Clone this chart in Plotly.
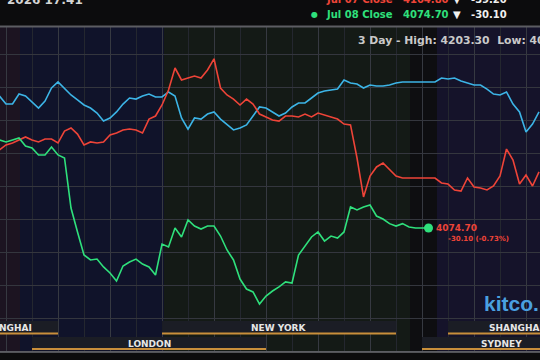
import numpy as np
import plotly.graph_objects as go

# ---- data (prices, USD/oz), sampled every 15 minutes ----
time_start_h = 1.75
time_step_h = 0.25

blue_jul06 = [
    4175.0, 4168.9, 4168.9, 4176.5, 4175.0, 4170.5, 4165.9, 4171.2, 4181.1, 4185.7, 4181.1, 4175.8,
    4172.0, 4168.2, 4165.9, 4162.1, 4156.0, 4158.3, 4162.9, 4168.9, 4173.5, 4172.7, 4175.0, 4176.5,
    4174.3, 4174.3, 4178.1, 4175.0, 4158.3, 4149.9, 4158.3, 4157.5, 4161.3, 4162.9, 4157.5, 4153.7,
    4149.2, 4150.7, 4153.0, 4159.8, 4166.7, 4165.9, 4162.9, 4159.8, 4162.1, 4166.7, 4169.7, 4169.7,
    4173.5, 4177.3, 4178.8, 4179.6, 4180.3, 4187.2, 4184.9, 4184.1, 4181.1, 4183.4, 4182.6, 4182.6,
    4183.4, 4184.9, 4185.7, 4185.7, 4185.7, 4185.7, 4185.7, 4185.7, 4188.7, 4187.9, 4188.7, 4186.4,
    4184.9, 4183.4, 4183.4, 4180.3, 4176.5, 4175.8, 4178.1, 4168.9, 4162.9, 4147.7, 4153.7, 4162.9,
]
red_jul07 = [
    4134.0, 4137.8, 4139.3, 4141.6, 4143.9, 4141.6, 4140.1, 4142.3, 4142.3, 4139.3, 4148.4, 4150.7,
    4146.1, 4137.8, 4140.1, 4139.3, 4140.1, 4145.4, 4146.9, 4149.2, 4149.9, 4149.2, 4146.9, 4157.5,
    4159.8, 4168.2, 4179.6, 4196.3, 4187.2, 4188.7, 4190.2, 4188.7, 4194.8, 4203.3, 4181.1, 4175.8,
    4172.7, 4168.2, 4172.7, 4168.9, 4161.3, 4159.1, 4156.8, 4156.0, 4159.8, 4159.8, 4159.1, 4161.3,
    4159.1, 4162.1, 4160.6, 4159.1, 4157.5, 4153.7, 4153.0, 4127.9, 4098.3, 4114.2, 4121.1, 4124.1,
    4119.5, 4114.2, 4112.7, 4112.7, 4112.7, 4112.7, 4112.7, 4112.7, 4108.9, 4108.1, 4103.6, 4102.8,
    4112.7, 4105.9, 4105.1, 4103.6, 4106.6, 4114.2, 4134.7, 4126.4, 4108.1, 4115.0, 4106.6, 4117.3,
]
green_jul08 = [
    4141.6, 4140.1, 4141.6, 4143.1, 4137.0, 4135.5, 4130.2, 4130.2, 4136.3, 4130.2, 4127.9, 4089.9,
    4071.7, 4054.2, 4050.4, 4051.1, 4045.1, 4040.5, 4034.4, 4045.8, 4048.9, 4051.1, 4047.3, 4045.1,
    4039.0, 4062.5, 4060.3, 4074.7, 4067.9, 4080.8, 4076.2, 4073.9, 4076.2, 4076.2, 4068.6, 4058.0,
    4050.4, 4035.9, 4028.3, 4026.1, 4016.9, 4023.0, 4026.8, 4029.9, 4033.7, 4032.9, 4054.2, 4061.0,
    4067.9, 4071.7, 4064.8, 4068.6, 4067.1, 4071.7, 4090.7, 4088.4, 4090.7, 4092.2, 4083.8, 4081.5,
    4078.0, 4076.2, 4078.0, 4075.5, 4074.7, 4074.7, 4074.7,
]
last_price = "4074.70"
last_change = "-30.10 (-0.73%)"
high_text = "3 Day - High: 4203.30  Low: 4016.90"

sessions_row1 = [("SHANGHAI", -2.0, 4.0), ("NEW YORK", 8.0, 17.0), ("SHANGHAI", 19.0, 24.0)]
sessions_row2 = [("LONDON", 3.0, 12.0), ("SYDNEY", 18.0, 24.0)]

W, H = 540, 360
X0, X1 = 1.769, 22.538
Y0, Y1 = 3974.38, 4247.98

def px(x):
    return x / W

def py(y):
    return 1 - y / H

def t_of(n):
    return time_start_h + time_step_h * np.arange(n)

fig = go.Figure()
line_w = 1.6
fig.add_trace(go.Scatter(x=t_of(len(blue_jul06)), y=blue_jul06, mode="lines",
                         line=dict(color="#3cb4e6", width=line_w), hoverinfo="skip"))
fig.add_trace(go.Scatter(x=t_of(len(red_jul07)), y=red_jul07, mode="lines",
                         line=dict(color="#ee4438", width=line_w), hoverinfo="skip"))
tg = t_of(len(green_jul08))
fig.add_trace(go.Scatter(x=tg, y=green_jul08, mode="lines",
                         line=dict(color="#2fe07c", width=line_w), hoverinfo="skip"))
fig.add_trace(go.Scatter(x=[tg[-1]], y=[green_jul08[-1]], mode="markers",
                         marker=dict(color="#2fe07c", size=9), hoverinfo="skip"))

shapes = []
# background bands
bands = [(0, 20, "#1c1421"), (20, 164, "#10132a"), (164, 410, "#141a16"),
         (410, 437, "#0e0e11"), (437, 540, "#15132a")]
for a, b, c in bands:
    shapes.append(dict(type="rect", xref="paper", yref="paper", x0=px(a), x1=px(b),
                       y0=py(352), y1=py(27), fillcolor=c, line_width=0, layer="below"))
# header
shapes.append(dict(type="rect", xref="paper", yref="paper", x0=0, x1=1, y0=py(26), y1=1,
                   fillcolor="#0c0c0d", line_width=0, layer="above"))
shapes.append(dict(type="line", xref="paper", yref="paper", x0=0, x1=1, y0=py(26.5), y1=py(26.5),
                   line=dict(color="#5c5d62", width=2), layer="above"))
# bottom
shapes.append(dict(type="rect", xref="paper", yref="paper", x0=0, x1=1, y0=0, y1=py(352),
                   fillcolor="#0c0c0d", line_width=0, layer="above"))
shapes.append(dict(type="line", xref="paper", yref="paper", x0=0, x1=1, y0=py(352), y1=py(352),
                   line=dict(color="#6a6b70", width=1.5), layer="above"))

annotations = []
def session(h0, h1, ytop, ybar):
    shapes.append(dict(type="rect", xref="x", yref="paper", x0=max(h0, X0 - 1), x1=min(h1, X1 + 1),
                       y0=py(ybar), y1=py(ytop), fillcolor="#1b1d25", line_width=0, layer="above"))
    shapes.append(dict(type="line", xref="x", yref="paper", x0=max(h0, X0 - 1), x1=min(h1, X1 + 1),
                       y0=py(ybar), y1=py(ybar), line=dict(color="#c98f3b", width=2), layer="above"))

for name, h0, h1 in sessions_row1:
    session(h0, h1, 321, 333.5)
for name, h0, h1 in sessions_row2:
    session(h0, h1, 337, 349)

lab_font = dict(family="DejaVu Sans", size=9, color="#e6e6e6")
annotations += [
    dict(text="<b>" + sessions_row1[0][0] + "</b>", x=px(34), y=py(328), xanchor="right"),
    dict(text="<b>" + sessions_row1[1][0] + "</b>", x=px(279), y=py(328), xanchor="center"),
    dict(text="<b>" + sessions_row1[2][0] + "</b>", x=px(487), y=py(328), xanchor="left"),
    dict(text="<b>" + sessions_row2[0][0] + "</b>", x=px(149), y=py(344), xanchor="center"),
    dict(text="<b>" + sessions_row2[1][0] + "</b>", x=px(479), y=py(344), xanchor="left"),
]
for a in annotations:
    a.update(xref="paper", yref="paper", yanchor="middle", showarrow=False, font=lab_font)

def ann(text, x, y, size, color, xanchor="left", family="DejaVu Sans"):
    annotations.append(dict(text=text, x=px(x), y=py(y), xref="paper", yref="paper",
                            xanchor=xanchor, yanchor="middle", showarrow=False,
                            font=dict(family=family, size=size, color=color)))

# header texts
ann("<b>2026 17:41</b>", 5, 0, 12, "#d4d4d4")
ann("<b>Jul 07 Close</b>", 324, -1, 10, "#ee4438")
ann("<b>4104.80</b>", 401, -1, 10, "#ee4438")
ann("<b>▼</b>", 451, -1, 10, "#f0f0f0")
ann("<b>-39.20</b>", 469, -1, 10, "#f0f0f0")
ann("●", 309, 14.5, 8, "#2fe07c")
ann("<b>Jul 08 Close</b>", 324, 15, 10, "#2fe07c")
ann("<b>4074.70</b>", 401, 15, 10, "#2fe07c")
ann("<b>▼</b>", 451, 15, 10, "#f0f0f0")
ann("<b>-30.10</b>", 469, 15, 10, "#f0f0f0")
# plot texts
ann("<b>" + high_text + "</b>", 356, 40, 10.8, "#c9c9c9")
ann("<b>" + last_price + "</b>", 434, 228, 9, "#ee4438")
ann("<b>" + last_change + "</b>", 446, 239, 7, "#ee4438")
ann("<b>kitco.</b>", 482, 303, 21, "#4aa0e0", family="Liberation Sans")

fig.update_layout(
    width=W, height=H, margin=dict(l=0, r=0, t=0, b=0),
    paper_bgcolor="#0c0c0d", plot_bgcolor="#10132a",
    showlegend=False, shapes=shapes, annotations=annotations,
    xaxis=dict(range=[X0, X1], showticklabels=False, zeroline=False, showline=False,
               tick0=0, dtick=2, gridcolor="#363941", gridwidth=1,
               minor=dict(dtick=1, tick0=0, showgrid=True, gridcolor="#24272f", gridwidth=1)),
    yaxis=dict(range=[Y0, Y1], showticklabels=False, zeroline=False, showline=False,
               tick0=4206.2, dtick=25, gridcolor="#34363e", gridwidth=1),
)
fig.write_html("out.html")
